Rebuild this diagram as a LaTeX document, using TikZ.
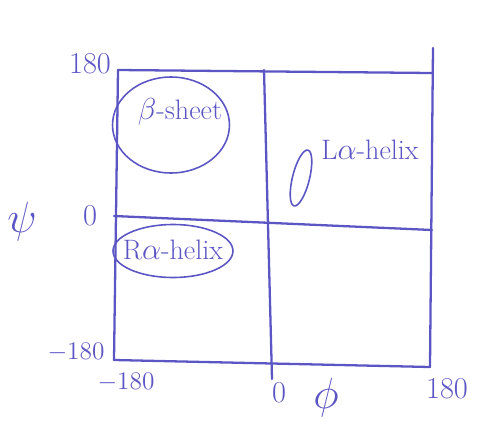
\documentclass[tikz,border=0pt]{standalone}
\usepackage{xcolor}
\usepackage{tikz}
\usepackage{amsmath}
\usetikzlibrary{shapes,positioning,calc}
\definecolor{ink}{RGB}{92,86,196}

\begin{document}
\begin{tikzpicture}[x=0.02cm,y=-0.02cm,
  pen/.style={draw=ink,line width=1.3pt,line cap=round},
  thin/.style={draw=ink,line width=0.9pt},
  lbl/.style={text=ink,font=\Large,inner sep=1pt},
  big/.style={text=ink,font=\fontsize{16}{18}\selectfont,inner sep=1pt},
  region/.style={thin,ellipse,inner sep=0pt}
]
\useasboundingbox (0,0) rectangle (495,427);

% Corners of the plot
\coordinate (tl) at (118,70);
\coordinate (tr) at (432,73);
\coordinate (br) at (430,367);
\coordinate (bl) at (114,360);
\coordinate (tm) at (264,70);
\coordinate (bm) at (272,379);
\coordinate (ml) at (114,216);
\coordinate (mr) at (432,230);
\coordinate (tp) at (433,48);

% Frame and axes
\draw[pen] (tl) -- (tr);
\draw[pen] (bl) -- (br);
\draw[pen] (tl) -- (bl);
\draw[pen] (tp) -- (br);
\draw[pen] (tm) -- (bm);
\draw[pen] (ml) -- (mr);

% Axis labels
\node[lbl,font=\LARGE] (psimax) at (90,64)  {180};
\node[lbl,font=\LARGE] (psizero) at (90,216) {0};
\node[lbl] (psimin) at (76,352) {$-$180};
\node[lbl,font=\Huge] (psi) at (22,222) {$\psi$};
\node[lbl] (phimin) at (126,382) {$-$180};
\node[lbl,font=\LARGE] (phizero) at (279,393) {0};
\node[lbl,font=\Huge] (phi) at (326,398) {$\phi$};
\node[lbl,font=\LARGE] (phimax) at (447,389) {180};

% Regions
\node[region,minimum width=2.34cm,minimum height=1.92cm] (sheet) at (171,125) {};
\node[big] at (180,112) {$\beta$-sheet};
\node[region,minimum width=2.4cm,minimum height=1.06cm] (rhelix) at (173,251) {};
\node[big] at (173,250) {R$\alpha$-helix};
\node[region,minimum width=0.34cm,minimum height=1.15cm,rotate=-14] (lhelix) at (301,178) {};
\node[big] (lhelixtxt) at (370,150) {L$\alpha$-helix};
\end{tikzpicture}
\end{document}
